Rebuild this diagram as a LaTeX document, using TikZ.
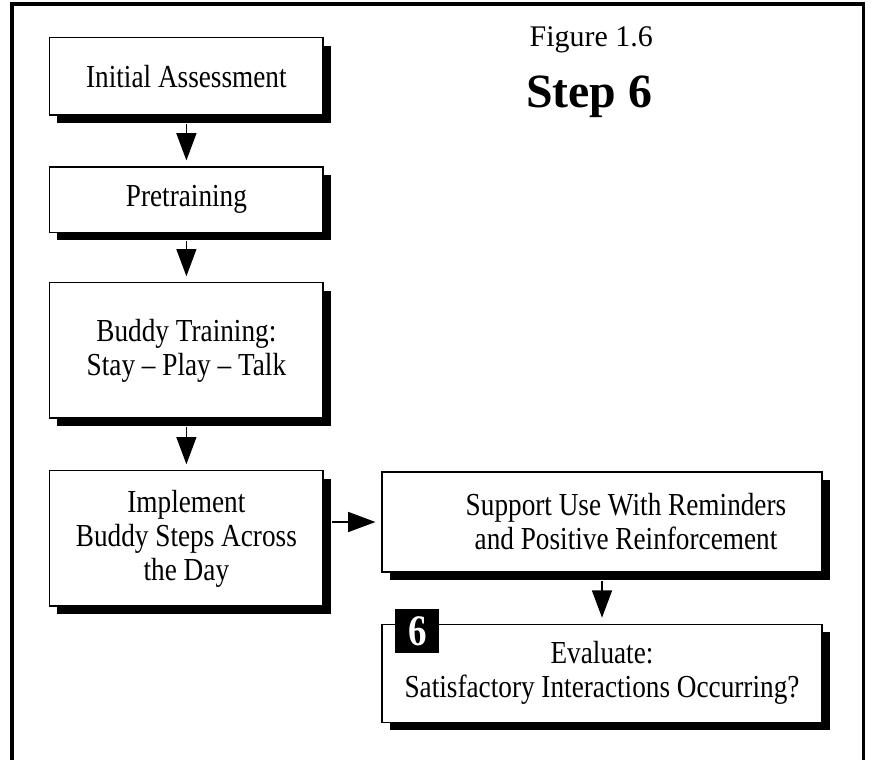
\documentclass[tikz,border=0pt]{standalone}
\usepackage{fontspec}
\setmainfont[FakeStretch=0.85]{Liberation Serif}
\newfontfamily\titlefont{Liberation Serif}
\usetikzlibrary{arrows.meta, shadows, positioning}

\tikzset{
  stepbox/.style={draw, line width=0.8pt, fill=white, minimum width=6.83cm,
    align=center, font=\fontsize{22.8}{24.2}\selectfont,
    drop shadow={fill=black, opacity=1, shadow xshift=0.19cm, shadow yshift=-0.2cm}},
  flow/.style={-{Triangle[width=0.5cm,length=0.68cm]}, line width=0.9pt,
    shorten <=0.2cm, shorten >=0.15cm},
  badge/.style={fill=black, text=white, minimum size=1.1cm, inner sep=0pt,
    font=\fontsize{31}{31}\selectfont\bfseries}
}

\begin{document}
\begin{tikzpicture}
\useasboundingbox (0,0) rectangle (21.8,-19);
% frame
\draw[line width=2.2pt] (0.3,-19) -- (0.3,-0.1) -- (21.58,-0.1) -- (21.58,-19);

% title
\node[font=\titlefont\fontsize{21.3}{22}\selectfont] (fig) at (14.78,-1.0) {Figure 1.6};
\node[font=\titlefont\bfseries\fontsize{34}{36}\selectfont] (step) at (14.73,-2.43) {Step 6};

% left column
\node[stepbox, minimum height=1.93cm] (init) at (4.66,-1.91) {Initial Assessment};
\node[stepbox, minimum height=1.63cm] (pre) at (4.66,-4.99) {Pretraining};
\node[stepbox, minimum height=3.38cm] (buddy) at (4.66,-8.76) {Buddy Training:\\Stay -- Play -- Talk};
\node[stepbox, minimum height=3.38cm] (impl) at (4.66,-13.46) {Implement\\Buddy Steps Across\\the Day};

% right column
\node[stepbox, minimum width=11cm, minimum height=2.5cm] (supp) at (15.05,-13.05)
  {\hspace*{1.2cm}Support Use With Reminders\\\hspace*{1.2cm}and Positive Reinforcement};
\node[stepbox, minimum width=11cm, minimum height=2.45cm] (eval) at (15.05,-16.83)
  {Evaluate:\\Satisfactory Interactions Occurring?};
\node[badge] (six) at ([xshift=0.9cm, yshift=-0.18cm]eval.north west) {6};

% arrows
\draw[flow] (init) -- (pre);
\draw[flow] (pre) -- (buddy);
\draw[flow] (buddy) -- (impl);
\draw[flow] (impl.east |- supp.west) -- (supp.west);
\draw[flow] (supp) -- (eval);
\end{tikzpicture}
\end{document}
